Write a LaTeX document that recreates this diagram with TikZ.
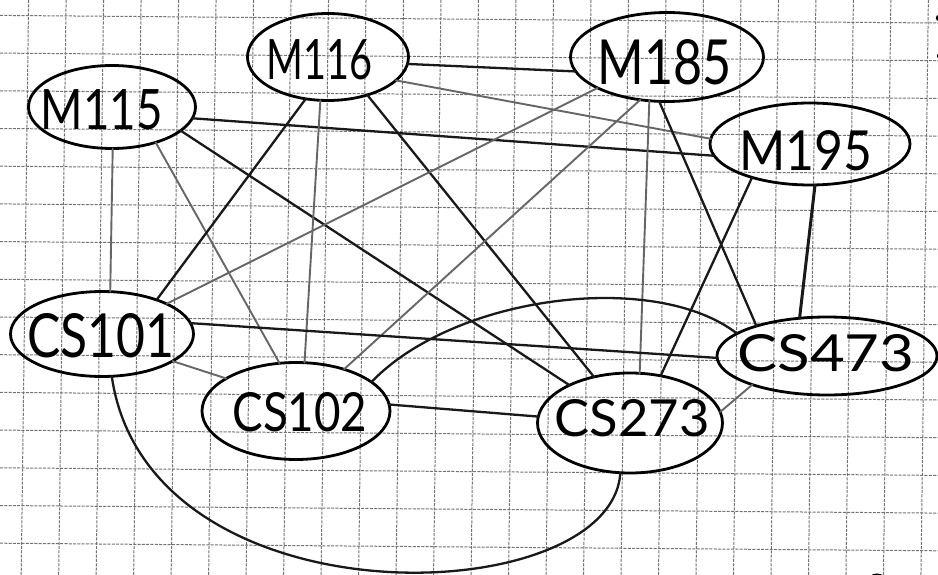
\documentclass[tikz,border=0pt]{standalone}
\usepackage{fontspec}
\usepackage{graphicx}
\setmainfont{Lato}
\usetikzlibrary{shapes.geometric}

% label of fixed printed size, shifted by (#1/2, #2) inside a zero-size box
\newcommand\hw[5]{\makebox[0pt]{\hspace*{#1}\raisebox{#2}[0pt][0pt]{\resizebox{#3}{#4}{#5}}}}

\tikzset{
  course/.style={ellipse, draw=black, line width=2.8, inner sep=0pt, outer sep=0pt, text=black},
  link/.style={line width=2.3, black!90, line cap=round},
  faint/.style={line width=1.9, black!60, line cap=round},
  gridline/.style={line width=1, black!55, dash pattern=on 3pt off 1.3pt},
}

\begin{document}
\begin{tikzpicture}[x=1pt, y=-1pt]
\useasboundingbox (0,0) rectangle (938,575);
\clip (0,0) rectangle (938,575);
\fill[white] (0,0) rectangle (938,575);

% squared paper, slightly skewed
\foreach \i in {-1,...,24}
  \draw[gridline] ({28.6+37.49*\i},0) -- ({28.6+37.49*\i-7.4},575);
\foreach \j in {-1,...,15}
  \draw[gridline] (0,{15.4+37.7*\j}) -- (938,{15.4+37.7*\j+7.6});

% courses
\node[course, minimum width=167, minimum height=83] (M115) at (112,107) {\hw{-20pt}{-23pt}{122pt}{40pt}{M115}};
\node[course, minimum width=161, minimum height=87] (M116) at (328,57) {\hw{-16pt}{-23pt}{106pt}{40pt}{M116}};
\node[course, minimum width=193, minimum height=89] (M185) at (667,57) {\hw{-4pt}{-27.5pt}{134pt}{45pt}{M185}};
\node[course, minimum width=200, minimum height=82] (M195) at (810,144) {\hw{-8pt}{-26pt}{133pt}{40pt}{M195}};
\node[course, minimum width=183, minimum height=85] (CS101) at (102,334) {\hw{-2pt}{-23pt}{147pt}{44pt}{CS101}};
\node[course, minimum width=188, minimum height=97] (CS102) at (296,411) {\hw{8pt}{-20.5pt}{135pt}{39pt}{CS102}};
\node[course, minimum width=185, minimum height=100] (CS273) at (630,423) {\hw{4pt}{-13.5pt}{155pt}{37pt}{CS273}};
\node[course, minimum width=220, minimum height=78] (CS473) at (827,356) {\hw{-2pt}{-15.5pt}{177pt}{37pt}{CS473}};

% connections
\draw[link]  (M116.-5)   -- (M185.-171);
\draw[faint] (M116.-19)  -- (M195.177);
\draw[link]  (M115.-8)   -- (M195.-173);
\draw[faint] (M115.-89)  -- (CS101.79);
\draw[faint] (M115.-39)  -- (CS102.109);
\draw[link]  (M115.-19)  -- (CS273.148);
\draw[link]  (M116.-118) -- (CS101.32);
\draw[faint] (M116.-100) -- (CS102.80);
\draw[link]  (M116.-44)  -- (CS273.128);
\draw[faint] (M185.-156) -- (CS101.25);
\draw[faint] (M185.-122) -- (CS102.41);
\draw[faint] (M185.-112) -- (CS273.79);
\draw[link]  (M185.-100) -- (CS473.157);
\draw[link]  (M195.-150) -- (CS273.57);
\draw[link, line width=3] (M195.-83) -- (CS473.126);
\draw[link]  (CS101.7)   -- (CS473.181);
\draw[faint] (CS101.-21) -- (CS102.155);
\draw[link]  (CS102.21) .. controls (455,295) and (655,270) .. (CS473.166);
\draw[link]  (CS102.4)   -- (CS273.176);
\draw[faint] (CS273.7)   -- (CS473.-159);
\draw[link]  (CS101.-77) .. controls (148,628) and (612,612) .. (CS273.-101);

% stray pen marks at the paper edges
\fill[black] (939,18) circle (3.2);
\fill[black] (939,56) circle (2.2);
\draw[black, line width=3] (877,584) circle (9);
\end{tikzpicture}
\end{document}
